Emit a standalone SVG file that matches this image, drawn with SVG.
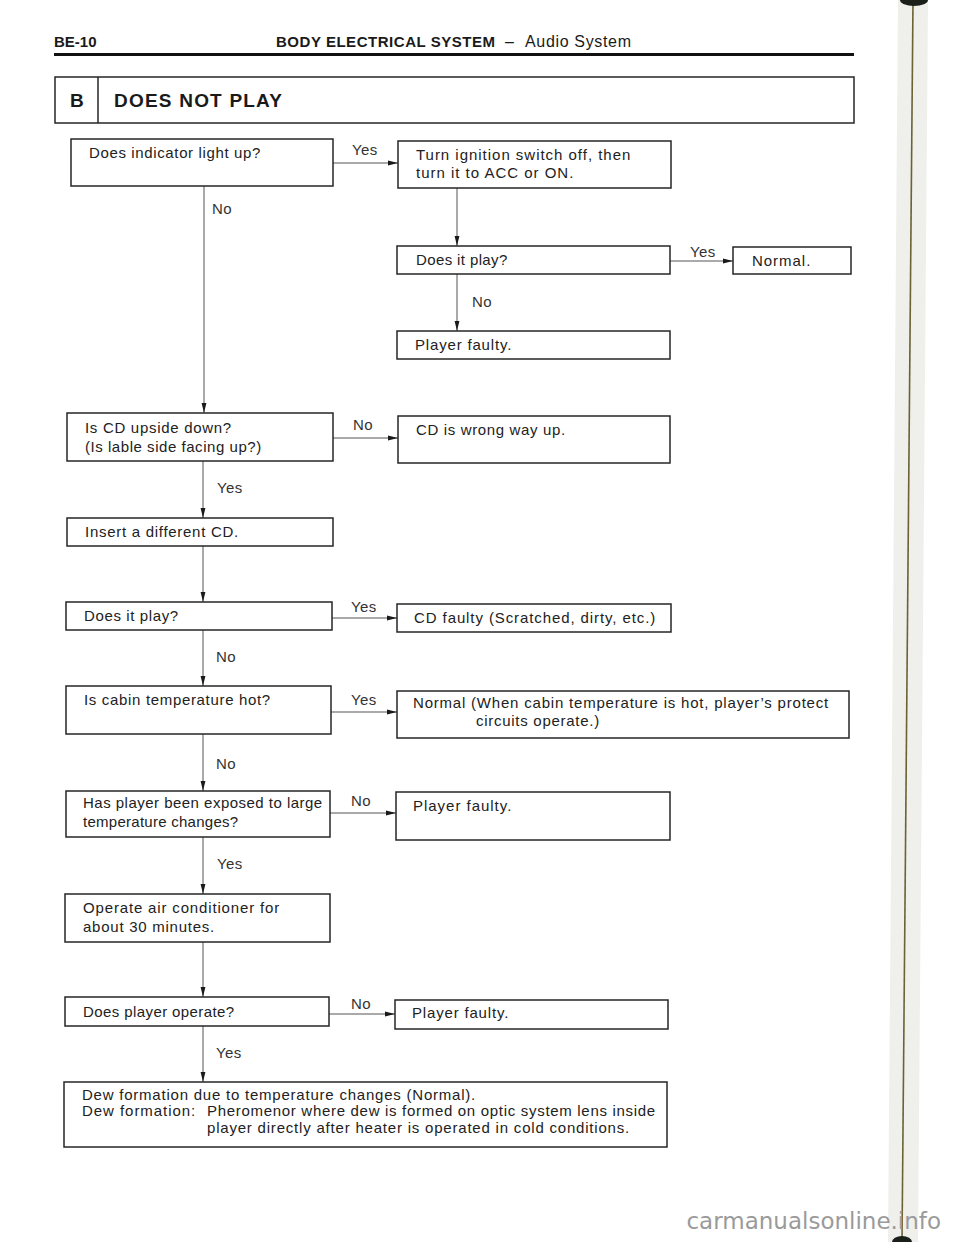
<svg xmlns="http://www.w3.org/2000/svg" width="960" height="1242" viewBox="0 0 960 1242">
<defs>
<style>
.bx{fill:#fff;stroke:#262626;stroke-width:1.5}
.t{font-family:"Liberation Sans",Arial,sans-serif;font-size:15px;fill:#222;letter-spacing:0.7px}
.tn{font-family:"Liberation Sans",Arial,sans-serif;font-size:15px;fill:#222;letter-spacing:0.8px}
.lb{font-family:"Liberation Sans",Arial,sans-serif;font-size:15px;fill:#333;letter-spacing:0.4px}
.c{fill:none;stroke:#555;stroke-width:1}
.hd{font-family:"Liberation Sans",Arial,sans-serif;font-weight:bold;fill:#1a1a1a}
</style>
<marker id="ah" markerUnits="userSpaceOnUse" markerWidth="10" markerHeight="6" refX="10" refY="3" orient="auto">
<path d="M0,0.6 L10,3 L0,5.4 z" fill="#1a1a1a"/>
</marker>
</defs>
<rect width="960" height="1242" fill="#fff"/>

<!-- binding artifact -->
<g id="binding">
<path d="M898,0 L928,0 L918,1242 L888,1242 z" fill="#efefeb"/>
<line x1="913" y1="0" x2="902" y2="1242" stroke="#6b6235" stroke-width="1.6"/>
<ellipse cx="914" cy="0" rx="14" ry="6" fill="#1a1f1a"/>
<ellipse cx="902" cy="1242" rx="10" ry="6" fill="#1a1f1a"/>
</g>

<!-- header -->
<g id="header">
<text class="hd" x="54" y="47" font-size="15">BE-10</text>
<text class="hd" x="276" y="47" font-size="15" textLength="219" lengthAdjust="spacing">BODY ELECTRICAL SYSTEM</text>
<text x="505" y="47" font-family="Liberation Sans,Arial,sans-serif" font-size="16" fill="#1a1a1a">–</text>
<text x="525" y="47" font-family="Liberation Sans,Arial,sans-serif" font-size="16" fill="#1a1a1a" textLength="106" lengthAdjust="spacing">Audio System</text>
<line x1="54" y1="54.5" x2="854" y2="54.5" stroke="#111" stroke-width="3"/>
</g>

<g id="title">
<rect x="55" y="77" width="799" height="46" fill="#fff" stroke="#262626" stroke-width="1.5"/>
<line x1="98" y1="77" x2="98" y2="123" stroke="#262626" stroke-width="1.5"/>
<text class="hd" x="70" y="107" font-size="19">B</text>
<text class="hd" x="114" y="107" font-size="19" textLength="168" lengthAdjust="spacing">DOES NOT PLAY</text>
</g>

<!-- connectors -->
<g id="connectors">
<line class="c" x1="333" y1="163" x2="398" y2="163" marker-end="url(#ah)"/>
<line class="c" x1="204" y1="186" x2="204" y2="413" marker-end="url(#ah)"/>
<line class="c" x1="457" y1="188" x2="457" y2="246" marker-end="url(#ah)"/>
<line class="c" x1="670" y1="261" x2="733" y2="261" marker-end="url(#ah)"/>
<line class="c" x1="457" y1="274" x2="457" y2="331" marker-end="url(#ah)"/>
<line class="c" x1="333" y1="438" x2="398" y2="438" marker-end="url(#ah)"/>
<line class="c" x1="203" y1="461" x2="203" y2="518" marker-end="url(#ah)"/>
<line class="c" x1="203" y1="546" x2="203" y2="602" marker-end="url(#ah)"/>
<line class="c" x1="332" y1="618" x2="397" y2="618" marker-end="url(#ah)"/>
<line class="c" x1="203" y1="630" x2="203" y2="686" marker-end="url(#ah)"/>
<line class="c" x1="331" y1="712" x2="397" y2="712" marker-end="url(#ah)"/>
<line class="c" x1="203" y1="734" x2="203" y2="791" marker-end="url(#ah)"/>
<line class="c" x1="330" y1="813" x2="396" y2="813" marker-end="url(#ah)"/>
<line class="c" x1="203" y1="837" x2="203" y2="894" marker-end="url(#ah)"/>
<line class="c" x1="203" y1="942" x2="203" y2="997" marker-end="url(#ah)"/>
<line class="c" x1="329" y1="1014" x2="395" y2="1014" marker-end="url(#ah)"/>
<line class="c" x1="203" y1="1026" x2="203" y2="1082" marker-end="url(#ah)"/>
<text class="lb" x="352" y="155">Yes</text>
<text class="lb" x="212" y="214">No</text>
<text class="lb" x="690" y="257">Yes</text>
<text class="lb" x="472" y="307">No</text>
<text class="lb" x="353" y="430">No</text>
<text class="lb" x="217" y="493">Yes</text>
<text class="lb" x="351" y="612">Yes</text>
<text class="lb" x="216" y="662">No</text>
<text class="lb" x="351" y="705">Yes</text>
<text class="lb" x="216" y="769">No</text>
<text class="lb" x="351" y="806">No</text>
<text class="lb" x="217" y="869">Yes</text>
<text class="lb" x="351" y="1009">No</text>
<text class="lb" x="216" y="1058">Yes</text>
</g>

<!-- nodes -->
<g id="n1"><rect class="bx" x="71" y="139" width="262" height="47"/><text class="t" x="89" y="158" textLength="172" lengthAdjust="spacing">Does indicator light up?</text></g>
<g id="n2"><rect class="bx" x="398" y="141" width="273" height="47"/><text class="t" x="416" y="160" textLength="215" lengthAdjust="spacing">Turn ignition switch off, then</text><text class="t" x="416" y="178" textLength="158" lengthAdjust="spacing">turn it to ACC or ON.</text></g>
<g id="n3"><rect class="bx" x="397" y="246" width="273" height="28"/><text class="t" x="416" y="265" textLength="92" lengthAdjust="spacing">Does it play?</text></g>
<g id="n4"><rect class="bx" x="733" y="247" width="118" height="27"/><text class="t" x="752" y="266" textLength="59" lengthAdjust="spacing">Normal.</text></g>
<g id="n5"><rect class="bx" x="397" y="331" width="273" height="28"/><text class="t" x="415" y="350" textLength="97" lengthAdjust="spacing">Player faulty.</text></g>
<g id="n6"><rect class="bx" x="67" y="413" width="266" height="48"/><text class="tn" x="85" y="433" textLength="147" lengthAdjust="spacing">Is CD upside down?</text><text class="tn" x="85" y="452" textLength="177" lengthAdjust="spacing">(Is lable side facing up?)</text></g>
<g id="n7"><rect class="bx" x="398" y="416" width="272" height="47"/><text class="tn" x="416" y="435" textLength="150" lengthAdjust="spacing">CD is wrong way up.</text></g>
<g id="n8"><rect class="bx" x="67" y="518" width="266" height="28"/><text class="tn" x="85" y="537" textLength="154" lengthAdjust="spacing">Insert a different CD.</text></g>
<g id="n9"><rect class="bx" x="66" y="602" width="266" height="28"/><text class="tn" x="84" y="621" textLength="95" lengthAdjust="spacing">Does it play?</text></g>
<g id="n10"><rect class="bx" x="397" y="604" width="274" height="28"/><text class="t" x="414" y="623" textLength="242" lengthAdjust="spacing">CD faulty (Scratched, dirty, etc.)</text></g>
<g id="n11"><rect class="bx" x="66" y="686" width="265" height="48"/><text class="tn" x="84" y="705" textLength="187" lengthAdjust="spacing">Is cabin temperature hot?</text></g>
<g id="n12"><rect class="bx" x="397" y="691" width="452" height="47"/><text class="tn" x="413" y="708" textLength="416" lengthAdjust="spacing">Normal (When cabin temperature is hot, player’s protect</text><text class="tn" x="476" y="726" textLength="124" lengthAdjust="spacing">circuits operate.)</text></g>
<g id="n13"><rect class="bx" x="66" y="791" width="264" height="46"/><text class="tn" x="83" y="808" textLength="240" lengthAdjust="spacing">Has player been exposed to large</text><text class="tn" x="83" y="827" textLength="156" lengthAdjust="spacing">temperature changes?</text></g>
<g id="n14"><rect class="bx" x="396" y="792" width="274" height="48"/><text class="t" x="413" y="811" textLength="99" lengthAdjust="spacing">Player faulty.</text></g>
<g id="n15"><rect class="bx" x="65" y="894" width="265" height="48"/><text class="tn" x="83" y="913" textLength="197" lengthAdjust="spacing">Operate air conditioner for</text><text class="tn" x="83" y="932" textLength="132" lengthAdjust="spacing">about 30 minutes.</text></g>
<g id="n16"><rect class="bx" x="65" y="997" width="264" height="29"/><text class="tn" x="83" y="1017" textLength="152" lengthAdjust="spacing">Does player operate?</text></g>
<g id="n17"><rect class="bx" x="395" y="1000" width="273" height="29"/><text class="t" x="412" y="1018" textLength="97" lengthAdjust="spacing">Player faulty.</text></g>
<g id="n18"><rect class="bx" x="64" y="1082" width="603" height="65"/><text class="tn" x="82" y="1100" textLength="394" lengthAdjust="spacing">Dew formation due to temperature changes (Normal).</text><text class="tn" x="82" y="1116" textLength="114" lengthAdjust="spacing">Dew formation:</text><text class="tn" x="207" y="1116" textLength="449" lengthAdjust="spacing">Pheromenor where dew is formed on optic system lens inside</text><text class="tn" x="207" y="1133" textLength="423" lengthAdjust="spacing">player directly after heater is operated in cold conditions.</text></g>

<text x="941" y="1229" text-anchor="end" font-family="DejaVu Sans,sans-serif" font-size="23" fill="#9a9a9a">carmanualsonline.info</text>
</svg>
